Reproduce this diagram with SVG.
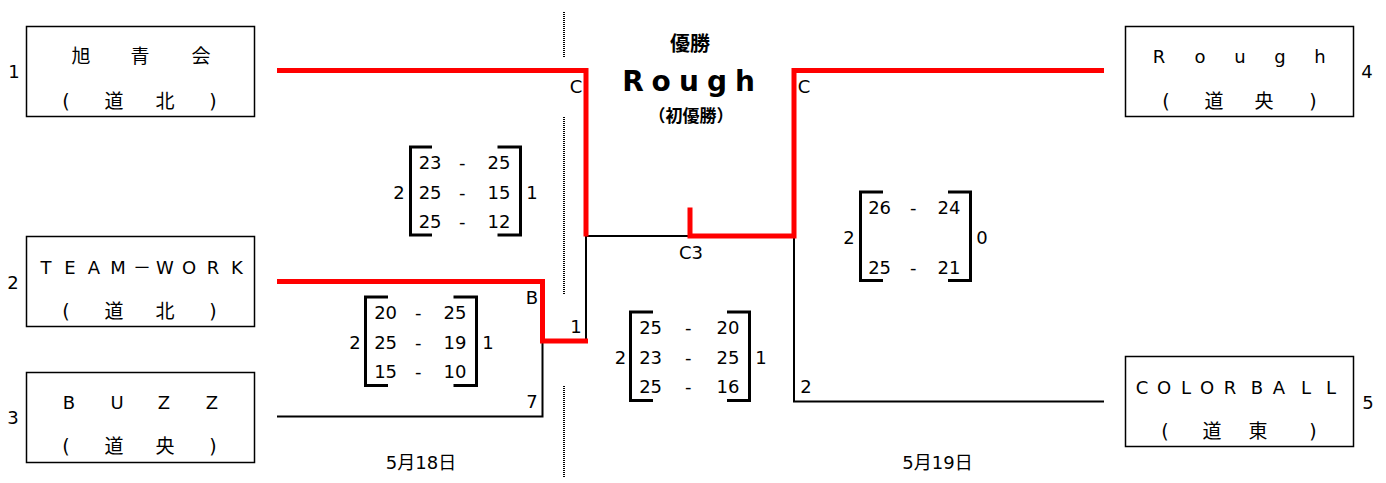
<svg xmlns="http://www.w3.org/2000/svg" width="1386" height="483" viewBox="0 0 1386 483">
<style>
.t{font-family:"DejaVu Sans","Noto Sans CJK JP",sans-serif;font-size:18px;fill:#000}
.m{text-anchor:middle}
.j{font-family:"DejaVu Sans","Noto Sans CJK JP",sans-serif;font-size:19px;fill:#000;text-anchor:middle}
.box{fill:#fff;stroke:#000;stroke-width:1.5}
.br{fill:none;stroke:#000;stroke-width:3;stroke-linejoin:miter}
.red{fill:none;stroke:#f00;stroke-width:5;stroke-linejoin:miter}
.blk{fill:none;stroke:#000;stroke-width:2;stroke-linejoin:miter}
.dot{stroke:#000;stroke-width:2;stroke-dasharray:1 1}
.tb{font-family:"Noto Sans CJK JP",sans-serif;font-weight:bold;fill:#000;text-anchor:middle}
.big{font-family:"DejaVu Sans",sans-serif;font-weight:bold;font-size:28px;fill:#000;text-anchor:middle}
</style>
<rect width="1386" height="483" fill="#fff"/>

<g id="divider">
<line class="dot" x1="564" y1="12" x2="564" y2="57"/>
<line class="dot" x1="564" y1="117" x2="564" y2="295"/>
<line class="dot" x1="564" y1="386" x2="564" y2="478"/>
</g>

<g id="connectors">
<path class="blk" d="M586,236 H690"/>
<path class="blk" d="M586,236 V341"/>
<path class="blk" d="M542.5,341 V416.5 H277"/>
<path class="blk" d="M794,236 V401.5 H1104"/>
<path class="red" d="M277,70.5 H586 V236.5"/>
<path class="red" d="M277,281.5 H542.5 V341 H588"/>
<path class="red" d="M690,207.5 V236 H794 V70.5 H1104"/>
<text class="t m" x="576" y="93">C</text>
<text class="t m" x="804" y="93">C</text>
<text class="t m" x="691" y="259">C3</text>
<text class="t m" x="532" y="304">B</text>
<text class="t m" x="576" y="333">1</text>
<text class="t m" x="532" y="408">7</text>
<text class="t m" x="806" y="393">2</text>
</g>

<g id="team1">
<rect class="box" x="26.5" y="26.5" width="228" height="90"/>
<text class="j" x="81 110 140 170 201" y="63">旭 青 会</text>
<text class="j" x="66 90 114 140 165 189 213" y="108">( 道 北 )</text>
<text class="t m" x="14" y="78">1</text>
</g>

<g id="team2">
<rect class="box" x="26.5" y="236.5" width="228" height="90"/>
<text class="t m" x="46 58 70 82 94 106 118 142 165 177 189 201 213 225 237" y="274">T E A M－W O R K</text>
<text class="j" x="66 90 114 140 165 189 213" y="318">( 道 北 )</text>
<text class="t m" x="13" y="289">2</text>
</g>

<g id="team3">
<rect class="box" x="26.5" y="372.5" width="228" height="90"/>
<text class="t m" x="69 93 117 140 164 188 212" y="409">B U Z Z</text>
<text class="j" x="66 90 114 140 165 189 213" y="453">( 道 央 )</text>
<text class="t m" x="13" y="424">3</text>
</g>

<g id="team4">
<rect class="box" x="1125.5" y="26.5" width="228" height="90"/>
<text class="t m" x="1159 1180 1200 1220 1240 1260 1280 1300 1320" y="63">R o u g h</text>
<text class="j" x="1166 1190 1214 1239 1264 1288 1313" y="108">( 道 央 )</text>
<text class="t m" x="1367" y="78">4</text>
</g>

<g id="team5">
<rect class="box" x="1125.5" y="356.5" width="228" height="90"/>
<text class="t m" x="1142 1153 1164 1175 1186 1196 1207 1218 1230 1243 1257 1268 1279 1292 1306 1318 1331" y="394">C O L O R B A L L</text>
<text class="j" x="1165 1189 1212 1235 1258 1285 1313" y="438">( 道 東 )</text>
<text class="t m" x="1368" y="409">5</text>
</g>

<g id="champion">
<text class="tb" x="690" y="51" style="font-size:20px">優勝</text>
<text class="big" x="633 647 661 675 689 703 717 731 745" y="91">R o u g h</text>
<text class="tb" x="691" y="122" style="font-size:17px">（初優勝）</text>
</g>

<g id="score1">
<path class="br" d="M432,147 H410.5 V235 H432"/>
<path class="br" d="M497.5,147 H520.5 V235 H497.5"/>
<text class="t"><tspan class="m" x="433" y="169">23</tspan> <tspan class="m" x="465" y="169">-</tspan> <tspan class="m" x="499" y="169">25</tspan></text>
<text class="t"><tspan class="m" x="433" y="199">25</tspan> <tspan class="m" x="465" y="199">-</tspan> <tspan class="m" x="499" y="199">15</tspan></text>
<text class="t"><tspan class="m" x="433" y="228">25</tspan> <tspan class="m" x="465" y="228">-</tspan> <tspan class="m" x="499" y="228">12</tspan></text>
<text class="t m" x="399" y="199">2</text>
<text class="t m" x="532" y="199">1</text>
</g>

<g id="score2">
<path class="br" d="M388,297 H365.5 V385.5 H388"/>
<path class="br" d="M453.5,297 H476.5 V385.5 H453.5"/>
<text class="t"><tspan class="m" x="388.5" y="319">20</tspan> <tspan class="m" x="421" y="319">-</tspan> <tspan class="m" x="455" y="319">25</tspan></text>
<text class="t"><tspan class="m" x="388.5" y="349">25</tspan> <tspan class="m" x="421" y="349">-</tspan> <tspan class="m" x="455" y="349">19</tspan></text>
<text class="t"><tspan class="m" x="388.5" y="378">15</tspan> <tspan class="m" x="421" y="378">-</tspan> <tspan class="m" x="455" y="378">10</tspan></text>
<text class="t m" x="355" y="349">2</text>
<text class="t m" x="488" y="349">1</text>
</g>

<g id="score3">
<path class="br" d="M653,312 H630.5 V400.5 H653"/>
<path class="br" d="M727,312 H749.5 V400.5 H727"/>
<text class="t"><tspan class="m" x="653.5" y="334">25</tspan> <tspan class="m" x="691" y="334">-</tspan> <tspan class="m" x="728" y="334">20</tspan></text>
<text class="t"><tspan class="m" x="653.5" y="364">23</tspan> <tspan class="m" x="691" y="364">-</tspan> <tspan class="m" x="728" y="364">25</tspan></text>
<text class="t"><tspan class="m" x="653.5" y="393">25</tspan> <tspan class="m" x="691" y="393">-</tspan> <tspan class="m" x="728" y="393">16</tspan></text>
<text class="t m" x="620.5" y="364">2</text>
<text class="t m" x="761" y="364">1</text>
</g>

<g id="score4">
<path class="br" d="M883,192 H860.5 V280.5 H883"/>
<path class="br" d="M948,192 H970.5 V280.5 H948"/>
<text class="t"><tspan class="m" x="882.5" y="214">26</tspan> <tspan class="m" x="916" y="214">-</tspan> <tspan class="m" x="949" y="214">24</tspan></text>
<text class="t"><tspan class="m" x="882.5" y="274">25</tspan> <tspan class="m" x="916" y="274">-</tspan> <tspan class="m" x="949" y="274">21</tspan></text>
<text class="t m" x="849" y="244">2</text>
<text class="t m" x="982" y="244">0</text>
</g>

<g id="dates">
<text class="t m" x="421" y="469">5月18日</text>
<text class="t m" x="937.5" y="469">5月19日</text>
</g>
</svg>
